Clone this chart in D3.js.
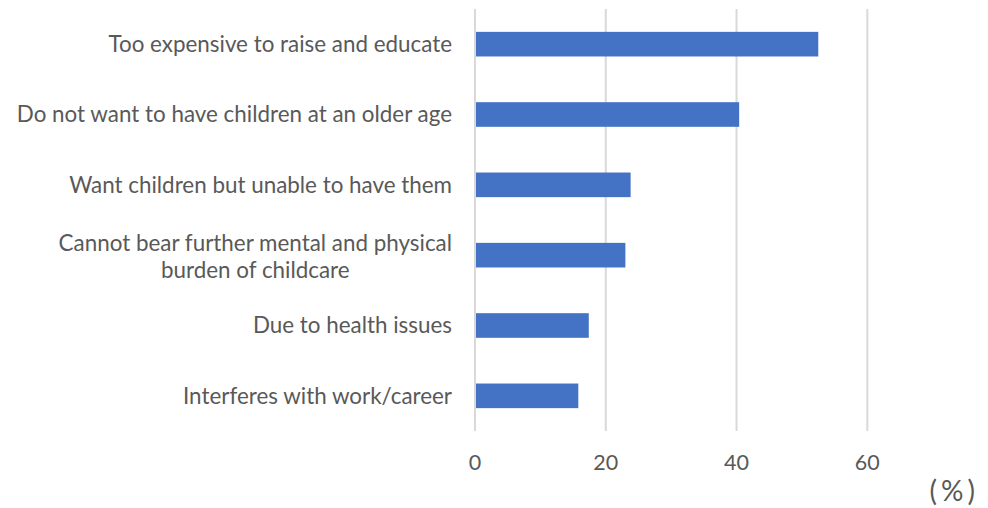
<!DOCTYPE html>
<html><head><meta charset="utf-8">
<script src="https://cdn.jsdelivr.net/npm/d3@7"></script>
<style>html,body{margin:0;padding:0;background:#fff;}svg{display:block;}</style>
</head><body>
<svg id="chart" width="988" height="508"></svg>
<script>
const categories = [
  ["Too expensive to raise and educate"],
  ["Do not want to have children at an older age"],
  ["Want children but unable to have them"],
  ["Cannot bear further mental and physical", "burden of childcare"],
  ["Due to health issues"],
  ["Interferes with work/career"]
];
const values = [52.5, 40.4, 23.8, 23.0, 17.4, 15.8];
const tickValues = [0, 20, 40, 60];
const unitLabel = "(%)";

const svg = d3.select("#chart");
const font = "Lato, 'Open Sans', sans-serif";
const textColor = "#595959";

const x = d3.scaleLinear().domain([0, 70]).range([475, 932.7]);
const y = d3.scaleBand().domain(d3.range(categories.length)).range([9, 431])
  .paddingInner(0.65).paddingOuter(0.325);

// gridlines
svg.append("g").selectAll("line").data(tickValues).join("line")
  .attr("x1", d => x(d)).attr("x2", d => x(d))
  .attr("y1", 9).attr("y2", 431)
  .attr("stroke", "#d9d9d9").attr("stroke-width", 2);

// bars
svg.append("g").selectAll("rect").data(values).join("rect")
  .attr("x", x(0) + 1).attr("y", (d, i) => y(i))
  .attr("width", d => x(d) - x(0) - 1).attr("height", y.bandwidth())
  .attr("fill", "#4472c4");

// tick labels
svg.append("g").selectAll("text").data(tickValues).join("text")
  .attr("x", d => x(d)).attr("y", 470)
  .attr("text-anchor", "middle")
  .attr("font-family", font).attr("font-size", 21.5).attr("fill", textColor)
  .text(d => d);

// category labels
const lab = svg.append("g");
categories.forEach((lines, i) => {
  const cy = y(i) + y.bandwidth() / 2;
  const lh = 26.6;
  const n = lines.length;
  const t = lab.append("text")
    .attr("font-family", font).attr("font-size", 22.4).attr("fill", textColor);
  lines.forEach((ln, j) => {
    t.append("tspan").attr("x", 0)
      .attr("y", cy + 7.7 + (j - (n - 1) / 2) * lh + (n > 1 ? 1.6 : 0)).text(ln);
  });
  const bb = t.node().getBBox();
  if (n === 1) {
    t.attr("text-anchor", "end").selectAll("tspan").attr("x", 452);
  } else {
    t.attr("text-anchor", "middle").selectAll("tspan").attr("x", 452 - bb.width / 2);
  }
});

svg.append("text").attr("x", 979).attr("y", 501).attr("text-anchor", "end")
  .attr("font-family", font).attr("font-size", 28).attr("fill", textColor)
  .attr("letter-spacing", 4)
  .text(unitLabel);
</script>
</body></html>
